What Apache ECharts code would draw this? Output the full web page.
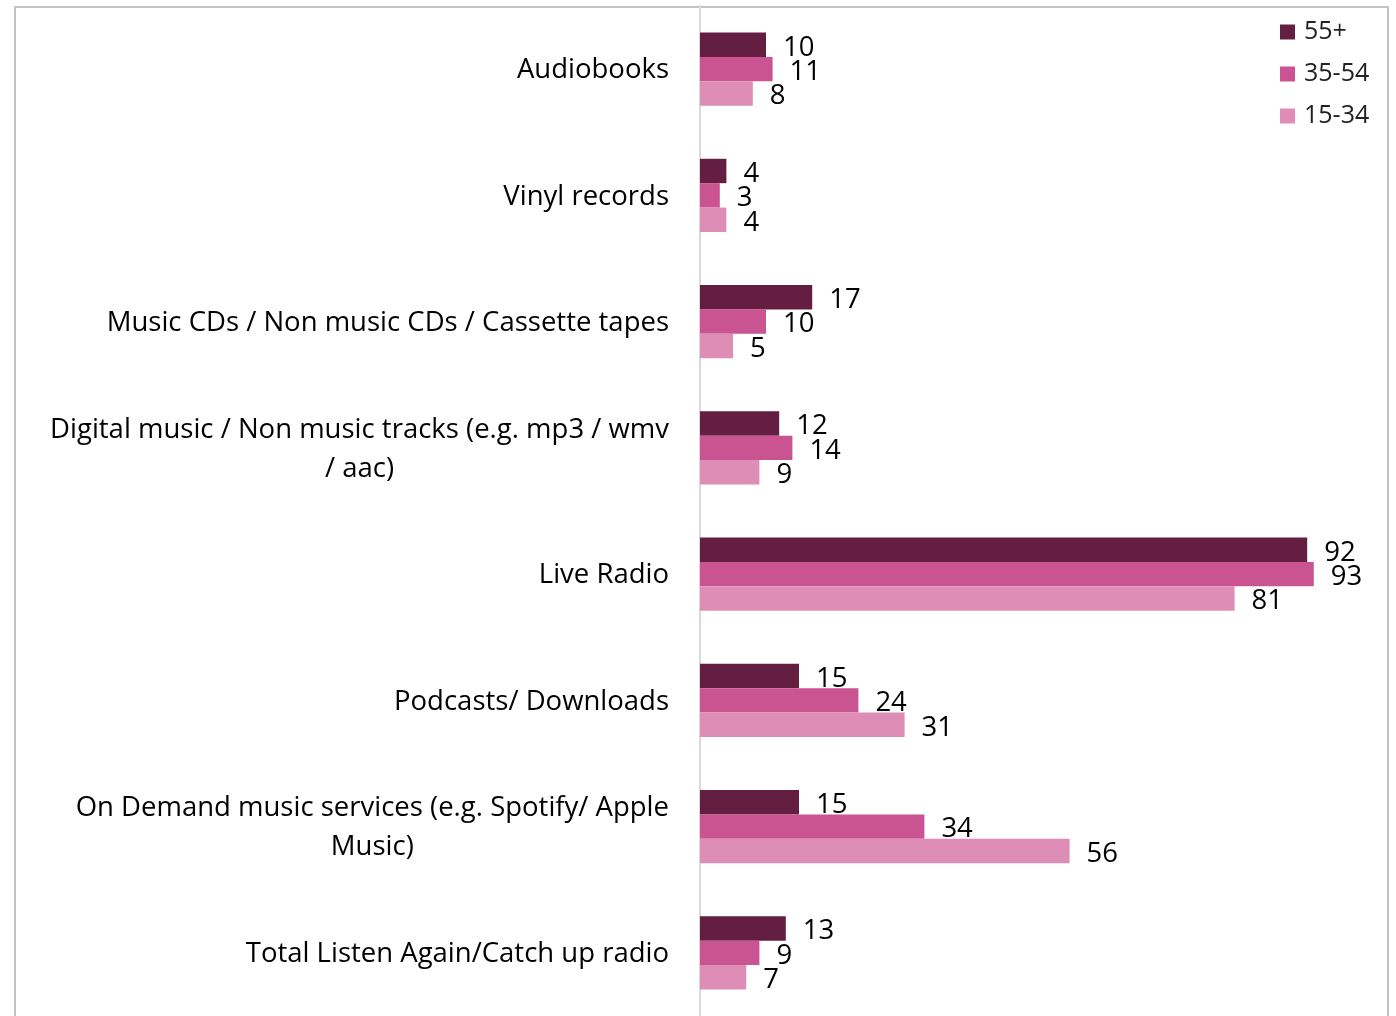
<!DOCTYPE html>
<html>
<head>
<meta charset="utf-8">
<script src="https://cdn.jsdelivr.net/npm/echarts@6/dist/echarts.min.js"></script>
<style>
  html, body { margin: 0; padding: 0; background: #fff; }
  #chart { width: 1396px; height: 1016px; }
</style>
</head>
<body>
<div id="chart"></div>
<script>
// Listening formats by age group (%)
const categories = [
  'Audiobooks',
  'Vinyl records',
  'Music CDs / Non music CDs / Cassette tapes',
  'Digital music / Non music tracks (e.g. mp3 / wmv / aac)',
  'Live Radio',
  'Podcasts/ Downloads',
  'On Demand music services (e.g. Spotify/ Apple Music)',
  'Total Listen Again/Catch up radio'
];
const seriesNames = ['55+', '35-54', '15-34'];
const age55plus = [10, 4, 17, 12, 92, 15, 15, 13];
const age35to54 = [11, 3, 10, 14, 93, 24, 34, 9];
const age15to34 = [8, 4, 5, 9, 81, 31, 56, 7];

const colors = ['#641E42', '#C95491', '#DE8DB6'];
const FONT = '"Open Sans", sans-serif';
const LABEL_SIZE = 27.5;
const WRAP_WIDTH = 628;

// break long category names into lines that fit the label column
const measureCtx = document.createElement('canvas').getContext('2d');
measureCtx.font = LABEL_SIZE + 'px ' + FONT;
function wrapLines(text) {
  const words = text.split(' ');
  const lines = [];
  let cur = '';
  for (const w of words) {
    const t = cur ? cur + ' ' + w : w;
    if (cur && measureCtx.measureText(t).width > WRAP_WIDTH) {
      lines.push(cur);
      cur = w;
    } else {
      cur = t;
    }
  }
  if (cur) lines.push(cur);
  return lines;
}

const chart = echarts.init(document.getElementById('chart'), null, { renderer: 'canvas' });

const valueLabel = {
  show: true,
  position: 'right',
  distance: 17,
  color: '#000',
  fontFamily: FONT,
  fontSize: LABEL_SIZE,
  offset: [0, 3]
};

const seriesData = [age55plus, age35to54, age15to34];

chart.setOption({
  animation: false,
  backgroundColor: '#fff',
  textStyle: { fontFamily: FONT },
  graphic: [{
    type: 'rect',
    shape: { x: 15, y: 7, width: 1373, height: 1100 },
    style: { fill: 'none', stroke: '#C4C4C4', lineWidth: 2 },
    silent: true,
    z: -1
  }],
  legend: {
    data: seriesNames,
    orient: 'vertical',
    left: 1280,
    top: 18,
    padding: 0,
    itemWidth: 15,
    itemHeight: 15,
    itemGap: 14,
    icon: 'rect',
    textStyle: { fontFamily: FONT, fontSize: 25, color: '#222', lineHeight: 28, padding: [0, 0, 0, 4] }
  },
  grid: { left: 700, top: 6, width: 660, height: 1015.5 },
  xAxis: {
    type: 'value',
    min: 0,
    max: 100,
    show: false,
    splitLine: { show: false }
  },
  yAxis: {
    type: 'category',
    data: categories,
    inverse: true,
    axisLine: { show: true, lineStyle: { color: '#D9D9D9', width: 2 } },
    axisTick: { show: false },
    axisLabel: {
      margin: 31,
      align: 'right',
      formatter: (v) => wrapLines(v).map(l => '{c|' + l + '}').join('\n'),
      rich: {
        c: {
          align: 'center',
          fontFamily: FONT,
          fontSize: LABEL_SIZE,
          lineHeight: 39,
          color: '#000',
          padding: [3, 0, 0, 0]
        }
      }
    }
  },
  series: seriesNames.map((name, i) => ({
    name,
    type: 'bar',
    data: seriesData[i],
    barWidth: 24.4,
    barGap: '0%',
    itemStyle: { color: colors[i] },
    label: valueLabel
  }))
});
</script>
</body>
</html>
